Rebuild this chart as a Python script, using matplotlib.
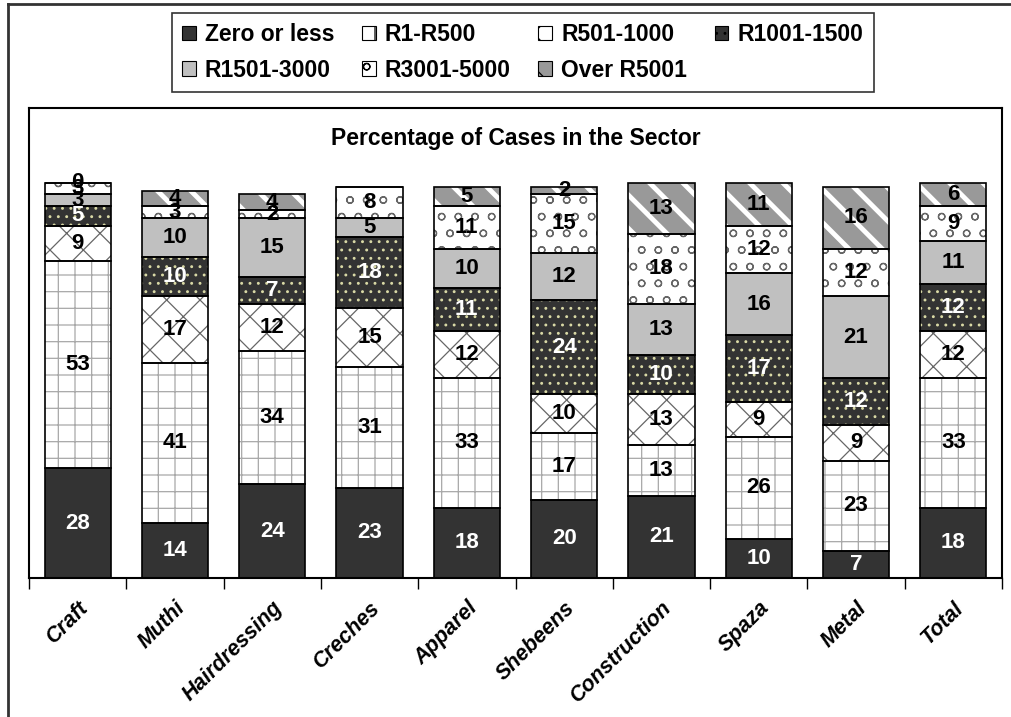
import numpy as np
import matplotlib.pyplot as plt
from matplotlib.lines import Line2D

plt.rcParams['font.family'] = ['Liberation Sans', 'DejaVu Sans']
plt.rcParams['hatch.linewidth'] = 0.9

sectors = ['Craft', 'Muthi', 'Hairdressing', 'Creches', 'Apparel', 'Shebeens',
           'Construction', 'Spaza', 'Metal', 'Total']
bands = ['Zero or less', 'R1-R500', 'R501-1000', 'R1001-1500',
         'R1501-3000', 'R3001-5000', 'Over R5001']

zero_or_less = [28, 14, 24, 23, 18, 20, 21, 10, 7, 18]
r1_r500 = [53, 41, 34, 31, 33, 17, 13, 26, 23, 33]
r501_1000 = [9, 17, 12, 15, 12, 10, 13, 9, 9, 12]
r1001_1500 = [5, 10, 7, 18, 11, 24, 10, 17, 12, 12]
r1501_3000 = [3, 10, 15, 5, 10, 12, 13, 16, 21, 11]
r3001_5000 = [3, 3, 2, 8, 11, 15, 18, 12, 12, 9]
over_r5001 = [0, 4, 4, np.nan, 5, 2, 13, 11, 16, 6]

series = [zero_or_less, r1_r500, r501_1000, r1001_1500,
          r1501_3000, r3001_5000, over_r5001]

# face colour, hatch, hatch colour, label colour
styles = [
    ('#333333', None, '#333333', 'white'),
    ('white', '+', '#a8a8a8', 'black'),
    ('white', 'x', '#666666', 'black'),
    ('#333333', '..', '#d9d9a6', 'white'),
    ('#c0c0c0', None, '#c0c0c0', 'black'),
    ('white', 'o', '#666666', 'black'),
    ('#999999', '\\', 'white', 'black'),
]

fig = plt.figure(figsize=(10.11, 7.17), dpi=100)
ax = fig.add_axes([0.0287, 0.1939, 0.9624, 0.655])

x = np.arange(len(sectors))
width = 0.68
bottom = np.zeros(len(sectors))
handles = []
for name, vals, (fc, hatch, hc, tc) in zip(bands, series, styles):
    v = np.array(vals, dtype=float)
    h = np.nan_to_num(v)
    bars = ax.bar(x, h, width, bottom=bottom, color=fc, edgecolor=hc,
                  linewidth=0, hatch=hatch, zorder=2)
    if hatch == '\\':
        for p in bars:
            try:
                p.set_hatch_linewidth(3.5)
            except AttributeError:
                pass
    outline = ax.bar(x, h, width, bottom=bottom, fill=False,
                     edgecolor='black', linewidth=1.2, zorder=3)
    labels = ['' if np.isnan(a) else '%d' % a for a in v]
    ax.bar_label(outline, labels=labels, label_type='center', color=tc,
                 fontsize=16, fontweight='bold', zorder=4)
    hb = plt.Rectangle((0, 0), 1, 1, facecolor=fc, edgecolor=hc, hatch=hatch,
                       linewidth=0)
    handles.append(hb)
    bottom += h

ax.set_xlim(-0.5, len(sectors) - 0.5)
ax.set_ylim(0, 120)
ax.set_yticks([])
ax.set_xticks(x)
ax.set_xticklabels(sectors, rotation=45, ha='right', va='top',
                   rotation_mode='anchor',
                   fontsize=15.5, fontweight='bold', fontstyle='italic')
ax.tick_params(axis='x', which='major', length=0, pad=14)
ax.set_xticks(np.arange(-0.5, len(sectors)), minor=True)
ax.tick_params(axis='x', which='minor', length=8, width=1, direction='out')
for s in ax.spines.values():
    s.set_linewidth(1.5)

ax.text(0.5, 0.935, 'Percentage of Cases in the Sector', transform=ax.transAxes,
        ha='center', va='center', fontsize=16.5, fontweight='bold')

# legend filled row by row like the original
order = [0, 4, 1, 5, 2, 6, 3]
leg = fig.legend([handles[i] for i in order], [bands[i] for i in order],
                 loc='center', bbox_to_anchor=(0.517, 0.927),
                 ncol=4, prop={'weight': 'bold', 'size': 16.5},
                 handlelength=0.6, handleheight=0.6, handletextpad=0.4,
                 columnspacing=1.2, frameon=True, fancybox=False,
                 borderpad=0.45, labelspacing=0.55)
leg.get_frame().set_edgecolor('black')
leg.get_frame().set_linewidth(1.2)
for hnd in leg.legend_handles:
    hnd.set_edgecolor('black')
    hnd.set_linewidth(0.8)

# outer chart border (cropped on right and bottom)
fig.add_artist(Line2D([8 / 1011, 8 / 1011], [0, 1 - 4 / 717], color='#333333',
                      linewidth=2, transform=fig.transFigure))
fig.add_artist(Line2D([8 / 1011, 1], [1 - 4 / 717, 1 - 4 / 717], color='#333333',
                      linewidth=2, transform=fig.transFigure))

fig.savefig('out.png', dpi=100)
